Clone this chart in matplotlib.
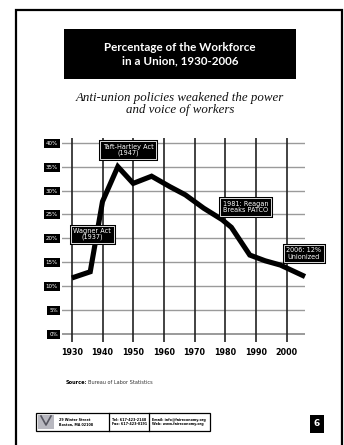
import matplotlib
matplotlib.use("Agg")
import matplotlib.pyplot as plt
from matplotlib.patches import Rectangle
import matplotlib.patheffects as pe

# union membership, share of workforce (%)
years = [1930, 1936, 1940, 1945, 1950, 1956, 1962, 1967, 1970, 1973,
         1979, 1982, 1988, 1993, 1998, 2006]
pct = [11.7, 13.0, 27.7, 35.0, 31.5, 33.0, 30.8, 29.1, 27.7, 26.3,
       23.9, 22.3, 16.5, 15.3, 14.4, 12.0]

decades = [1930, 1940, 1950, 1960, 1970, 1980, 1990, 2000]
y_ticks = [0, 5, 10, 15, 20, 25, 30, 35, 40]
y_labels = ["0%", "5%", "10%", "15%", "20%", "25%", "30%", "35%", "40%"]

# event callouts: (text, year, pct)
events = [
    ("Taft-Hartley Act\n(1947)", 1948.3, 38.5),
    ("Wagner Act\n(1937)", 1936.6, 20.9),
    ("1981: Reagan\nBreaks PATCO", 1986.6, 26.6),
    ("2006: 12%\nUnionized", 2005.6, 16.8),
]

W, H = 344, 445
COND = "DejaVu Sans"


def fx(x):
    return x / W


def fy(y):
    return 1 - y / H


fig = plt.figure(figsize=(W / 100, H / 100), dpi=100)
fig.patch.set_facecolor("white")

# page frame
fig.patches.append(Rectangle((fx(16), fy(460)), fx(342) - fx(16), fy(10) - fy(460),
                             transform=fig.transFigure, fill=False,
                             edgecolor="black", linewidth=1.6))

# title banner
fig.patches.append(Rectangle((fx(64), fy(79)), fx(296) - fx(64), fy(29) - fy(79),
                             transform=fig.transFigure, facecolor="black",
                             edgecolor="none"))
fig.text(fx(180), fy(54), "Percentage of the Workforce\nin a Union, 1930-2006",
         color="white", ha="center", va="center", fontsize=8.4,
         fontweight="bold", family="Lato", linespacing=1.25)

fig.text(fx(180), fy(104), "Anti-union policies weakened the power\nand voice of workers",
         ha="center", va="center", fontsize=9.3, style="italic",
         family="Liberation Serif", color="#111111", linespacing=1.05)

ax = fig.add_axes([fx(62), fy(342), fx(305) - fx(62), fy(138) - fy(342)])
ax.set_xlim(1926.8, 2006)
ax.set_ylim(-1.7, 41.0)
for s in ax.spines.values():
    s.set_visible(False)

for v in y_ticks:
    ax.axhline(v, color="#9a9a9a", lw=1.4 if v == 0 else 1.0, zorder=1)
for d in decades:
    ax.axvline(d, color="#222222", lw=1.2, zorder=2)

ax.plot(years, pct, color="black", lw=3.7, solid_joinstyle="miter",
        solid_capstyle="butt", zorder=3, clip_on=False)

ax.set_xticks(decades)
ax.set_xticklabels([str(d) for d in decades], family=COND, fontsize=5.8,
                   fontweight="bold")
ax.set_yticks(y_ticks)
ax.set_yticklabels(y_labels, family=COND, fontsize=4.0, color="white")
ax.tick_params(length=0)
ax.tick_params(axis="x", pad=4)
ax.tick_params(axis="y", pad=3)
for lbl in ax.get_yticklabels():
    lbl.set_bbox(dict(boxstyle="square,pad=0.35", facecolor="black", edgecolor="none"))

for text, x, y in events:
    t = ax.text(x, y, text, ha="center", va="center", color="white",
                fontsize=4.7, family=COND, linespacing=1.05, zorder=5,
                bbox=dict(boxstyle="square,pad=0.4", facecolor="black",
                          edgecolor="white", linewidth=0.6))
    t.get_bbox_patch().set_path_effects(
        [pe.withStroke(linewidth=2.2, foreground="black")])

# source line
fig.text(fx(66), fy(382), "Source:", fontsize=3.6, fontweight="bold",
         va="center", family="DejaVu Sans")
fig.text(fx(88), fy(382), "Bureau of Labor Statistics", fontsize=3.6,
         va="center", family="DejaVu Sans", color="#333333")

# contact strip
fig.patches.append(Rectangle((fx(36), fy(431)), fx(210) - fx(36), fy(413) - fy(431),
                             transform=fig.transFigure, fill=False,
                             edgecolor="black", linewidth=0.9))
for xd in (109, 149):
    fig.lines.append(plt.Line2D([fx(xd), fx(xd)], [fy(413), fy(431)],
                                transform=fig.transFigure, color="black", lw=0.9))
fig.patches.append(Rectangle((fx(38), fy(429)), fx(54) - fx(38), fy(415) - fy(429),
                             transform=fig.transFigure, facecolor="#b8b8c0",
                             edgecolor="none"))
fig.lines.append(plt.Line2D([fx(41), fx(46), fx(51)], [fy(416), fy(425), fy(416)],
                            transform=fig.transFigure, color="#555560", lw=1.2))
contact = [
    (59, "29 Winter Street\nBoston, MA 02108"),
    (112, "Tel: 617-423-2148\nFax: 617-423-0191"),
    (152, "Email: info@faireconomy.org\nWeb: www.faireconomy.org"),
]
for xc, txt in contact:
    fig.text(fx(xc), fy(422), txt, fontsize=2.4, va="center", fontweight="bold",
             family="DejaVu Sans", linespacing=1.25)

# page number
fig.text(fx(317), fy(424), "6", color="white", fontsize=6.5, fontweight="bold",
         ha="center", va="center", family="DejaVu Sans",
         bbox=dict(boxstyle="square,pad=0.45", facecolor="black", edgecolor="none"))

fig.savefig("out.png", dpi=100)
